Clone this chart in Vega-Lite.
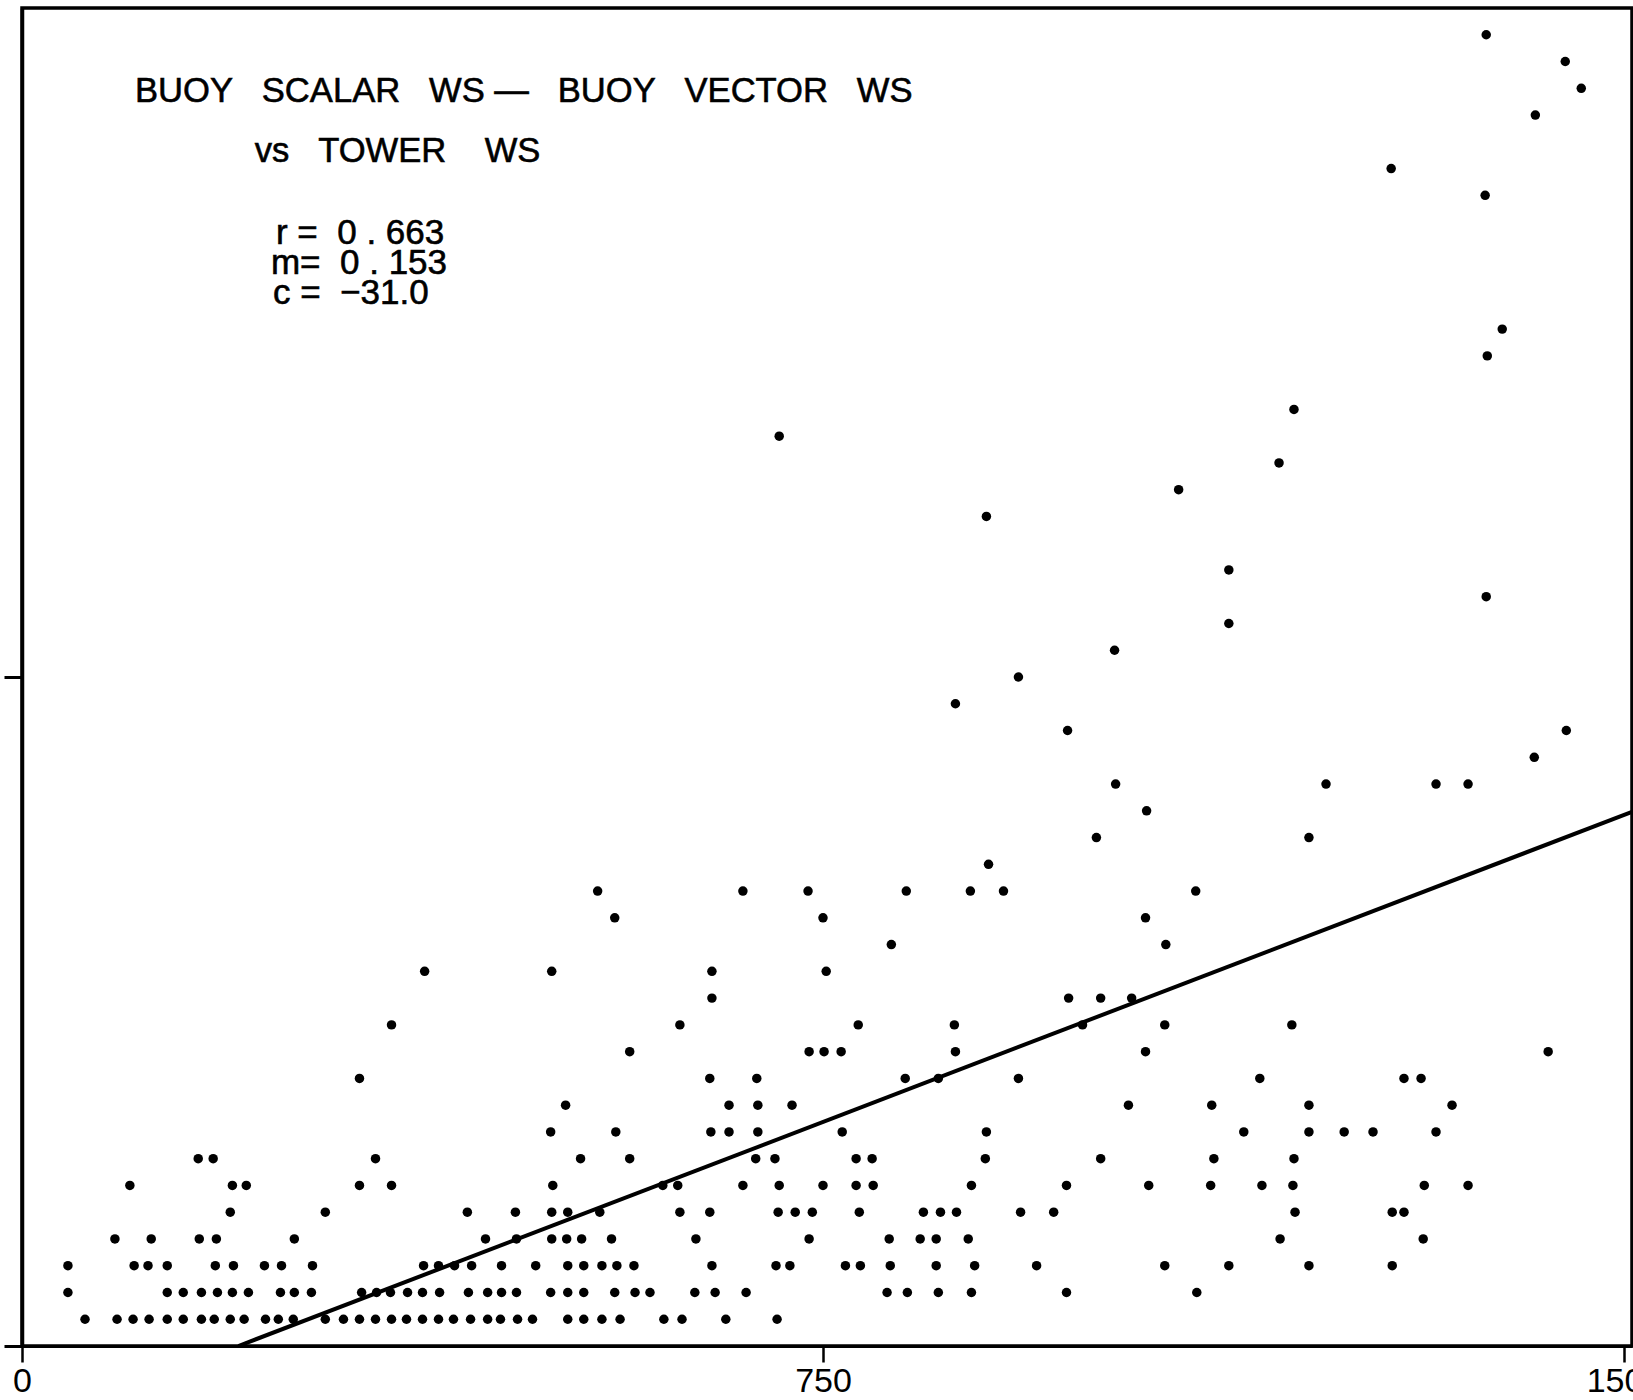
{
  "$schema": "https://vega.github.io/schema/vega-lite/v6.json",
  "width": 1610,
  "height": 1338,
  "autosize": "none",
  "padding": {"left": 22, "top": 8, "right": 1, "bottom": 54},
  "background": "white",
  "config": {
    "view": {"stroke": "black", "strokeWidth": 3.5},
    "axis": {"grid": false, "domainColor": "black", "tickColor": "black", "labelColor": "black", "labelFont": "Liberation Sans"},
    "text": {"font": "Liberation Sans", "color": "black", "stroke": "black", "strokeWidth": 0.6}
  },
  "datasets": {
    "pts": [
      {"x":59,"y":10},{"x":89,"y":10},{"x":104,"y":10},{"x":119,"y":10},{"x":136,"y":10},{"x":151,"y":10},{"x":168,"y":10},{"x":180,"y":10},{"x":195,"y":10},{"x":208,"y":10},{"x":228,"y":10},{"x":240,"y":10},{"x":254,"y":10},{"x":284,"y":10},{"x":301,"y":10},{"x":316,"y":10},{"x":331,"y":10},{"x":346,"y":10},{"x":360,"y":10},{"x":375,"y":10},{"x":390,"y":10},{"x":404,"y":10},{"x":420,"y":10},{"x":436,"y":10},{"x":448,"y":10},{"x":464,"y":10},{"x":478,"y":10},{"x":511,"y":10},{"x":526,"y":10},{"x":543,"y":10},{"x":560,"y":10},{"x":601,"y":10},{"x":618,"y":10},{"x":659,"y":10},{"x":707,"y":10},
      {"x":43,"y":20},{"x":136,"y":20},{"x":151,"y":20},{"x":168,"y":20},{"x":183,"y":20},{"x":197,"y":20},{"x":212,"y":20},{"x":242,"y":20},{"x":255,"y":20},{"x":271,"y":20},{"x":318,"y":20},{"x":332,"y":20},{"x":345,"y":20},{"x":361,"y":20},{"x":375,"y":20},{"x":391,"y":20},{"x":418,"y":20},{"x":436,"y":20},{"x":449,"y":20},{"x":463,"y":20},{"x":495,"y":20},{"x":511,"y":20},{"x":526,"y":20},{"x":555,"y":20},{"x":574,"y":20},{"x":588,"y":20},{"x":630,"y":20},{"x":649,"y":20},{"x":678,"y":20},{"x":810,"y":20},{"x":829,"y":20},{"x":858,"y":20},{"x":889,"y":20},{"x":978,"y":20},{"x":1100,"y":20},
      {"x":43,"y":30},{"x":105,"y":30},{"x":118,"y":30},{"x":136,"y":30},{"x":181,"y":30},{"x":198,"y":30},{"x":227,"y":30},{"x":243,"y":30},{"x":272,"y":30},{"x":376,"y":30},{"x":390,"y":30},{"x":405,"y":30},{"x":421,"y":30},{"x":449,"y":30},{"x":481,"y":30},{"x":511,"y":30},{"x":526,"y":30},{"x":543,"y":30},{"x":557,"y":30},{"x":573,"y":30},{"x":646,"y":30},{"x":706,"y":30},{"x":719,"y":30},{"x":771,"y":30},{"x":785,"y":30},{"x":813,"y":30},{"x":856,"y":30},{"x":892,"y":30},{"x":950,"y":30},{"x":1070,"y":30},{"x":1130,"y":30},{"x":1205,"y":30},{"x":1283,"y":30},
      {"x":87,"y":40},{"x":121,"y":40},{"x":166,"y":40},{"x":182,"y":40},{"x":255,"y":40},{"x":434,"y":40},{"x":463,"y":40},{"x":496,"y":40},{"x":510,"y":40},{"x":524,"y":40},{"x":552,"y":40},{"x":631,"y":40},{"x":737,"y":40},{"x":812,"y":40},{"x":841,"y":40},{"x":856,"y":40},{"x":886,"y":40},{"x":1178,"y":40},{"x":1312,"y":40},
      {"x":195,"y":50},{"x":284,"y":50},{"x":417,"y":50},{"x":462,"y":50},{"x":496,"y":50},{"x":511,"y":50},{"x":541,"y":50},{"x":616,"y":50},{"x":644,"y":50},{"x":708,"y":50},{"x":724,"y":50},{"x":740,"y":50},{"x":784,"y":50},{"x":844,"y":50},{"x":860,"y":50},{"x":875,"y":50},{"x":935,"y":50},{"x":966,"y":50},{"x":1192,"y":50},{"x":1283,"y":50},{"x":1294,"y":50},
      {"x":101,"y":60},{"x":197,"y":60},{"x":210,"y":60},{"x":316,"y":60},{"x":346,"y":60},{"x":497,"y":60},{"x":600,"y":60},{"x":614,"y":60},{"x":675,"y":60},{"x":709,"y":60},{"x":750,"y":60},{"x":781,"y":60},{"x":797,"y":60},{"x":889,"y":60},{"x":978,"y":60},{"x":1055,"y":60},{"x":1113,"y":60},{"x":1161,"y":60},{"x":1190,"y":60},{"x":1313,"y":60},{"x":1354,"y":60},
      {"x":165,"y":70},{"x":179,"y":70},{"x":331,"y":70},{"x":523,"y":70},{"x":569,"y":70},{"x":687,"y":70},{"x":705,"y":70},{"x":781,"y":70},{"x":796,"y":70},{"x":902,"y":70},{"x":1010,"y":70},{"x":1116,"y":70},{"x":1191,"y":70},
      {"x":495,"y":80},{"x":556,"y":80},{"x":645,"y":80},{"x":662,"y":80},{"x":689,"y":80},{"x":768,"y":80},{"x":903,"y":80},{"x":1144,"y":80},{"x":1205,"y":80},{"x":1238,"y":80},{"x":1265,"y":80},{"x":1324,"y":80},
      {"x":509,"y":90},{"x":662,"y":90},{"x":689,"y":90},{"x":721,"y":90},{"x":1036,"y":90},{"x":1114,"y":90},{"x":1205,"y":90},{"x":1339,"y":90},
      {"x":316,"y":100},{"x":644,"y":100},{"x":688,"y":100},{"x":827,"y":100},{"x":858,"y":100},{"x":933,"y":100},{"x":1159,"y":100},{"x":1294,"y":100},{"x":1310,"y":100},
      {"x":569,"y":110},{"x":737,"y":110},{"x":751,"y":110},{"x":767,"y":110},{"x":874,"y":110},{"x":1052,"y":110},{"x":1429,"y":110},
      {"x":346,"y":120},{"x":616,"y":120},{"x":783,"y":120},{"x":873,"y":120},{"x":993,"y":120},{"x":1070,"y":120},{"x":1189,"y":120},
      {"x":646,"y":130},{"x":980,"y":130},{"x":1010,"y":130},{"x":1039,"y":130},
      {"x":377,"y":140},{"x":496,"y":140},{"x":646,"y":140},{"x":753,"y":140},
      {"x":814,"y":150},{"x":1071,"y":150},
      {"x":555,"y":160},{"x":750,"y":160},{"x":1052,"y":160},
      {"x":539,"y":170},{"x":675,"y":170},{"x":736,"y":170},{"x":828,"y":170},{"x":888,"y":170},{"x":919,"y":170},{"x":1099,"y":170},
      {"x":905,"y":180},
      {"x":1006,"y":190},{"x":1205,"y":190},
      {"x":1053,"y":200},
      {"x":1024,"y":210},{"x":1221,"y":210},{"x":1324,"y":210},{"x":1354,"y":210},
      {"x":1416,"y":220},
      {"x":979,"y":230},{"x":1446,"y":230},
      {"x":874,"y":240},
      {"x":933,"y":250},
      {"x":1023,"y":260},
      {"x":1130,"y":270},
      {"x":1371,"y":280},
      {"x":1130,"y":290},
      {"x":903,"y":310},
      {"x":1083,"y":320},
      {"x":1177,"y":330},
      {"x":709,"y":340},
      {"x":1191,"y":350},
      {"x":1372,"y":370},
      {"x":1386,"y":380},
      {"x":1370,"y":430},
      {"x":1282,"y":440},
      {"x":1417,"y":460},
      {"x":1460,"y":470},
      {"x":1445,"y":480},
      {"x":1371,"y":490}
    ],
    "fit": [{"x": 202.6, "y": 0}, {"x": 1507.5, "y": 199.6}]
  },
  "layer": [
    {
      "data": {"name": "pts"},
      "mark": {"type": "circle", "color": "black", "size": 90, "opacity": 1},
      "encoding": {
        "x": {"field": "x", "type": "quantitative", "scale": {"domain": [0, 1507.5], "nice": false, "zero": false},
              "axis": {"title": null, "values": [0, 750, 1500], "format": "d", "labelFontSize": 34, "labelFlush": false, "labelOverlap": false, "labelPadding": 2, "tickSize": 16, "tickWidth": 2.5, "domainWidth": 3}},
        "y": {"field": "y", "type": "quantitative", "scale": {"domain": [0, 500], "nice": false, "zero": false},
              "axis": {"title": null, "values": [0, 250], "labels": false, "tickSize": 18, "tickWidth": 3, "domainWidth": 3.5}}
      }
    },
    {
      "data": {"name": "fit"},
      "mark": {"type": "line", "color": "black", "strokeWidth": 4},
      "encoding": {
        "x": {"field": "x", "type": "quantitative"},
        "y": {"field": "y", "type": "quantitative"}
      }
    },
    {
      "data": {"values": [{}]},
      "mark": {"type": "text", "align": "left", "baseline": "alphabetic", "fontSize": 34.6, "text": "BUOY\u00a0\u00a0\u00a0SCALAR\u00a0\u00a0\u00a0WS\u00a0\u2014\u00a0\u00a0\u00a0BUOY\u00a0\u00a0\u00a0VECTOR\u00a0\u00a0\u00a0WS"},
      "encoding": {"x": {"datum": 105.8, "type": "quantitative"}, "y": {"datum": 464.8, "type": "quantitative"}}
    },
    {
      "data": {"values": [{}]},
      "mark": {"type": "text", "align": "left", "baseline": "alphabetic", "fontSize": 34.6, "text": "vs\u00a0\u00a0\u00a0TOWER\u00a0\u00a0\u00a0\u00a0WS"},
      "encoding": {"x": {"datum": 218, "type": "quantitative"}, "y": {"datum": 442.5, "type": "quantitative"}}
    },
    {
      "data": {"values": [{}]},
      "mark": {"type": "text", "align": "left", "baseline": "alphabetic", "fontSize": 35, "text": "r\u00a0=\u00a0\u00a00\u00a0.\u00a0663"},
      "encoding": {"x": {"datum": 237.8, "type": "quantitative"}, "y": {"datum": 411.7, "type": "quantitative"}}
    },
    {
      "data": {"values": [{}]},
      "mark": {"type": "text", "align": "left", "baseline": "alphabetic", "fontSize": 35, "text": "m=\u00a0\u00a00\u00a0.\u00a0153"},
      "encoding": {"x": {"datum": 233.1, "type": "quantitative"}, "y": {"datum": 400.5, "type": "quantitative"}}
    },
    {
      "data": {"values": [{}]},
      "mark": {"type": "text", "align": "left", "baseline": "alphabetic", "fontSize": 35, "text": "c\u00a0=\u00a0\u00a0\u221231.0"},
      "encoding": {"x": {"datum": 235, "type": "quantitative"}, "y": {"datum": 389.3, "type": "quantitative"}}
    }
  ]
}
